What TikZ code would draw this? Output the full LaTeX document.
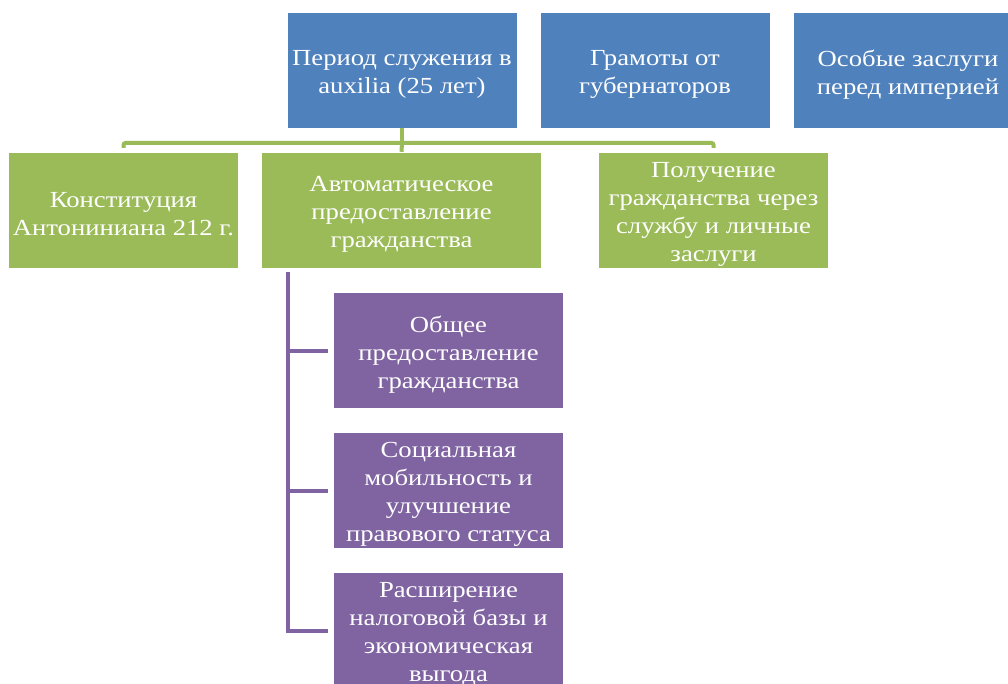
\documentclass[tikz,border=0pt]{standalone}
\usepackage{fontspec}
\setmainfont[FakeStretch=1.16]{Liberation Serif}
\definecolor{cblue}{HTML}{4F81BD}
\definecolor{cgreen}{HTML}{9BBB59}
\definecolor{cpurple}{HTML}{8064A2}
\begin{document}
\begin{tikzpicture}[x=1pt,y=-1pt,
  box/.style={rectangle, minimum height=115pt, inner sep=0pt},
  txt/.style={inner sep=1pt, text=white, align=center, yshift=-4pt,
    font=\fontsize{23}{28}\selectfont},
  bluebox/.style={box, fill=cblue, minimum width=229pt},
  greenbox/.style={box, fill=cgreen},
  purplebox/.style={box, fill=cpurple, minimum width=229pt},
  gline/.style={draw=cgreen, line width=4pt, rounded corners=2pt},
  pline/.style={draw=cpurple, line width=4pt}]
\useasboundingbox (0,0) rectangle (1008,684);
\begin{scope}
\clip (0,0) rectangle (1008,684);
\node[bluebox, label={[txt]center:{Период служения в\\auxilia (25 лет)}}] (b1) at (402,70.5) {};
\node[bluebox, label={[txt]center:{Грамоты от\\губернаторов}}] (b2) at (655,70.5) {};
\node[bluebox, label={[txt]center:{Особые заслуги\\перед империей}}] (b3) at (908,70.5) {};
\node[greenbox, minimum width=229pt, label={[txt]center:{Конституция\\Антониниана 212 г.}}] (g1) at (123.5,210.5) {};
\node[greenbox, minimum width=279pt, label={[txt]center:{Автоматическое\\предоставление\\гражданства}}] (g2) at (401.5,210.5) {};
\node[greenbox, minimum width=229pt, label={[txt]center:{Получение\\гражданства через\\службу и личные\\заслуги}}] (g3) at (713.5,210.5) {};
\node[purplebox, label={[txt]center:{Общее\\предоставление\\гражданства}}] (p1) at (448.5,350.5) {};
\node[purplebox, label={[txt]center:{Социальная\\мобильность и\\улучшение\\правового статуса}}] (p2) at (448.5,490.5) {};
\node[purplebox, label={[txt]center:{Расширение\\налоговой базы и\\экономическая\\выгода}}] (p3) at (448.5,630.5) {};
\coordinate (bus) at (0,143);
\draw[gline] (b1.south) -- (b1.south |- bus);
\draw[gline] ([yshift=5pt]g1.north) -- (g1.north |- bus) -- (g3.north |- bus) -- ([yshift=5pt]g3.north);
\draw[gline] (b1.south |- bus) -- ([yshift=1pt]g2.north);
\coordinate (ptop) at (288,272);
\draw[pline] (ptop) -- (ptop |- p3.west) -- ([xshift=-6pt]p3.west);
\draw[pline] (ptop |- p1.west) -- ([xshift=-6pt]p1.west);
\draw[pline] (ptop |- p2.west) -- ([xshift=-6pt]p2.west);
\end{scope}
\end{tikzpicture}
\end{document}
